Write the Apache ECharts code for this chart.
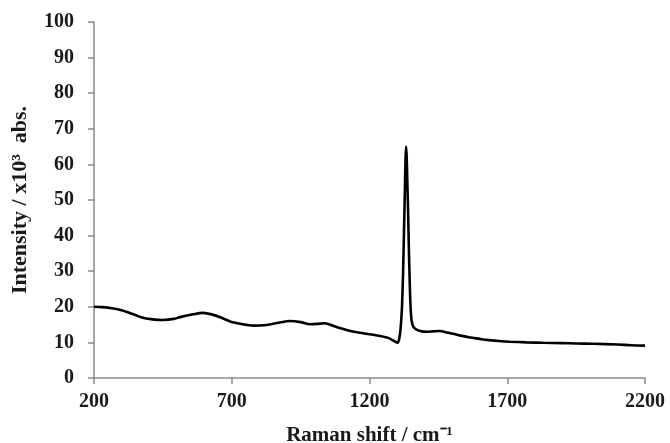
<!DOCTYPE html>
<html>
<head>
<meta charset="utf-8">
<script src="https://cdn.jsdelivr.net/npm/echarts@6/dist/echarts.min.js"></script>
<style>
  html, body { margin: 0; padding: 0; background: #fff; }
  #chart { width: 670px; height: 443px; }
</style>
</head>
<body>
<div id="chart"></div>
<script>
// Raman shift (cm-1) and intensity (x10^3 abs.)
var shift = [
  200, 230, 270, 300, 340, 378, 420, 451, 490, 512, 560, 596, 630, 660, 694,
  740, 778, 827, 870, 911, 950, 984, 1010, 1038, 1070, 1117, 1165, 1200, 1238,
  1270, 1293, 1302, 1308, 1313, 1318, 1322, 1326, 1329, 1331, 1333, 1335, 1337,
  1340, 1343, 1346, 1349, 1353, 1360, 1371, 1390, 1407, 1430, 1456, 1480, 1504,
  1530, 1565, 1600, 1625, 1670, 1710, 1770, 1830, 1900, 1950, 2011, 2100, 2150, 2200
];
var intensity = [
  20.0, 19.9, 19.5, 19.0, 18.0, 16.9, 16.4, 16.3, 16.6, 17.1, 17.9, 18.3, 17.8, 17.0, 15.9,
  15.1, 14.7, 14.9, 15.5, 16.0, 15.7, 15.1, 15.2, 15.4, 14.6, 13.5, 12.7, 12.3, 11.8,
  11.2, 10.2, 9.9, 11.0, 14.0, 20.0, 30.0, 44.0, 55.0, 62.0, 65.0, 62.0, 56.0,
  47.0, 36.0, 27.0, 20.0, 16.0, 14.3, 13.6, 13.1, 13.0, 13.1, 13.2, 12.8, 12.4,
  11.9, 11.4, 11.0, 10.7, 10.4, 10.2, 10.0, 9.9, 9.8, 9.7, 9.6, 9.4, 9.2, 9.1
];

var xMin = 200, xMax = 2200, xStep = 500;
var yMin = 0, yMax = 100, yStep = 10;

var points = shift.map(function (x, i) { return [x, intensity[i]]; });

var chart = echarts.init(document.getElementById('chart'));
var font = 'Liberation Serif';
var axisGrey = '#8a8a8a';
var plain = function (v) { return String(v); };

chart.setOption({
  animation: false,
  grid: { left: 94, right: 25, top: 22, bottom: 65, outerBoundsMode: 'none', containLabel: false },
  xAxis: {
    type: 'value',
    min: xMin, max: xMax, interval: xStep,
    name: 'Raman shift / cm\u207B\u00B9',
    nameLocation: 'middle',
    nameGap: 47,
    nameTextStyle: { fontFamily: font, fontWeight: 'bold', fontSize: 21, color: '#1a1a1a' },
    axisLine: { lineStyle: { color: axisGrey, width: 1.5 } },
    axisTick: { show: true, length: 6, lineStyle: { color: axisGrey, width: 1.5 } },
    axisLabel: { fontFamily: font, fontWeight: 'bold', fontSize: 20, color: '#1a1a1a', margin: 14, formatter: plain },
    splitLine: { show: false }
  },
  yAxis: {
    type: 'value',
    min: yMin, max: yMax, interval: yStep,
    name: 'Intensity / x10\u00B3  abs.',
    nameLocation: 'middle',
    nameGap: 63,
    nameRotate: 90,
    nameTextStyle: { fontFamily: font, fontWeight: 'bold', fontSize: 22, color: '#1a1a1a' },
    axisLine: { show: true, lineStyle: { color: axisGrey, width: 1.5 } },
    axisTick: { show: true, length: 6, lineStyle: { color: axisGrey, width: 1.5 } },
    axisLabel: { fontFamily: font, fontWeight: 'bold', fontSize: 20, color: '#1a1a1a', margin: 20, formatter: plain },
    splitLine: { show: false }
  },
  series: [{
    type: 'line',
    data: points,
    showSymbol: false,
    smooth: 0.25,
    lineStyle: { color: '#000', width: 2.6 }
  }]
});
</script>
</body>
</html>
